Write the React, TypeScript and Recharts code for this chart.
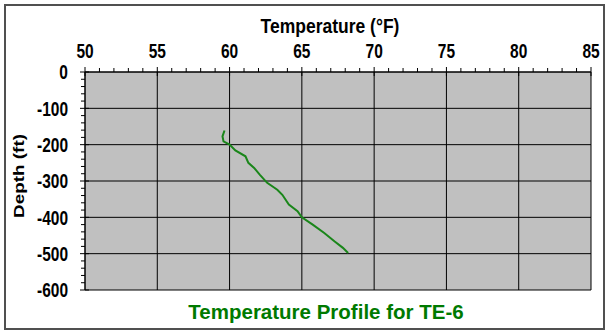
import React from 'react';
import { LineChart, Line, XAxis, YAxis, CartesianGrid } from 'recharts';

const temps = [59.65, 59.51, 59.58, 60.0, 60.4, 61.1, 61.3, 61.7, 62.1, 62.6, 63.3, 63.65, 64.1, 64.7, 65.0, 65.75, 66.55, 67.25, 67.84, 68.2];
const depths = [-161, -177, -191, -200, -216, -232, -250, -264, -283, -305, -324, -338, -365, -383, -400, -420, -443, -466, -484, -498];

const xMajor = [50, 55, 60, 65, 70, 75, 80, 85];
const xMinor = [50, 51, 52, 53, 54, 55, 56, 57, 58, 59, 60, 61, 62, 63, 64, 65, 66, 67, 68, 69, 70, 71, 72, 73, 74, 75, 76, 77, 78, 79, 80, 81, 82, 83, 84, 85];
const yMajor = [0, -100, -200, -300, -400, -500, -600];
const yMinor = [0, -20, -40, -60, -80, -100, -120, -140, -160, -180, -200, -220, -240, -260, -280, -300, -320, -340, -360, -380, -400, -420, -440, -460, -480, -500, -520, -540, -560, -580, -600];

const data = temps.map((t, i) => ({ temp: t, depth: depths[i] }));

const FONT = '"Liberation Sans", Arial, Helvetica, sans-serif';

const XTick = (props: any) => {
  const { x, y, payload } = props;
  const v = payload.value;
  const major = xMajor.includes(v);
  return (
    <g>
      <line x1={x} x2={x} y1={y - (major ? 5 : 4)} y2={major ? y + 4 : y} stroke="#000" strokeWidth={1} />
      {major && (
        <text
          transform={`translate(${x},${y - 14}) scale(1,1.35)`}
          textAnchor="middle"
          fontSize={15.5}
          fontWeight="bold"
          fontFamily={FONT}
          fill="#000"
        >
          {v}
        </text>
      )}
    </g>
  );
};

const YTick = (props: any) => {
  const { x, y, payload } = props;
  const v = payload.value;
  const major = yMajor.includes(v);
  return (
    <g>
      <line x1={x - (major ? 5 : 4)} x2={major ? x + 4 : x} y1={y} y2={y} stroke="#000" strokeWidth={1} />
      {major && (
        <text
          transform={`translate(${x - 17},${y + 7.3}) scale(1,1.35)`}
          textAnchor="end"
          fontSize={15.5}
          fontWeight="bold"
          fontFamily={FONT}
          fill="#000"
        >
          {v}
        </text>
      )}
    </g>
  );
};

const lin = (v: number, d0: number, d1: number, r0: number, r1: number) => r0 + ((v - d0) / (d1 - d0)) * (r1 - r0);

export default function App() {
  return (
    <div style={{ position: 'absolute', left: 0, top: 0, width: 612, height: 336, background: '#fff' }}>
      <LineChart
        width={612}
        height={336}
        data={data}
        margin={{ top: 42, right: 21, bottom: 46, left: 30 }}
      >
        <CartesianGrid
          stroke="#000"
          strokeWidth={1}
          fill="#C0C0C0"
          fillOpacity={1}
          verticalCoordinatesGenerator={(p: any) => {
            const s = p?.xAxis?.scale;
            if (typeof s === 'function') return xMajor.map((v) => s(v));
            return xMajor.map((v) => lin(v, 50, 85, p.offset.left, p.offset.left + p.offset.width));
          }}
          horizontalCoordinatesGenerator={(p: any) => {
            const s = p?.yAxis?.scale;
            if (typeof s === 'function') return yMajor.map((v) => s(v));
            return yMajor.map((v) => lin(v, 0, -600, p.offset.top, p.offset.top + p.offset.height));
          }}
        />
        <XAxis
          dataKey="temp"
          type="number"
          orientation="top"
          domain={[50, 85]}
          ticks={xMinor}
          interval={0}
          height={30}
          tickSize={0}
          tickMargin={0}
          tickLine={false}
          axisLine={{ stroke: '#000', strokeWidth: 1 }}
          tick={<XTick />}
          allowDataOverflow
        />
        <YAxis
          dataKey="depth"
          type="number"
          domain={[-600, 0]}
          ticks={yMinor}
          interval={0}
          width={55}
          tickSize={0}
          tickMargin={0}
          tickLine={false}
          axisLine={{ stroke: '#000', strokeWidth: 1 }}
          tick={<YTick />}
          allowDataOverflow
        />
        <Line
          type="linear"
          dataKey="depth"
          stroke="#1a861a"
          strokeWidth={2}
          dot={false}
          isAnimationActive={false}
        />
      </LineChart>
      <svg width={612} height={336} style={{ position: 'absolute', left: 0, top: 0, pointerEvents: 'none' }}>
        <rect x={5} y={5} width={599} height={324} fill="none" stroke="#505050" strokeWidth={2} />
        <text
          transform="translate(330,33) scale(1,1.2)"
          textAnchor="middle"
          fontSize={17.5}
          fontWeight="bold"
          fontFamily={FONT}
          fill="#000"
        >
          Temperature (°F)
        </text>
        <text
          transform="translate(24,176) rotate(-90) scale(1.35,1)"
          textAnchor="middle"
          fontSize={14}
          fontWeight="bold"
          fontFamily={FONT}
          fill="#000"
        >
          Depth (ft)
        </text>
        <text
          x={326}
          y={319}
          textAnchor="middle"
          fontSize={20.5}
          fontWeight="bold"
          fontFamily={FONT}
          fill="#007a00"
        >
          Temperature Profile for TE-6
        </text>
      </svg>
    </div>
  );
}
